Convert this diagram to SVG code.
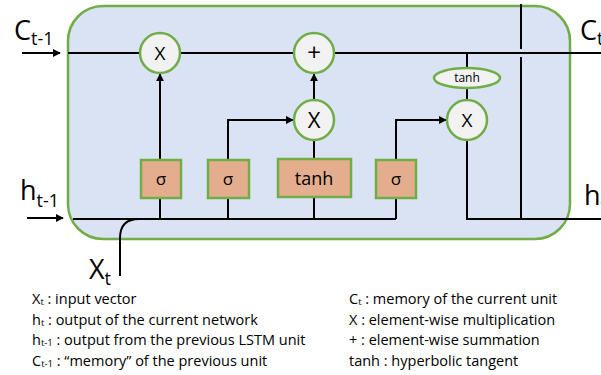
<svg xmlns="http://www.w3.org/2000/svg" width="601" height="375" viewBox="0 0 601 375">
<style>
.ln{fill:none;stroke:#000;stroke-width:2}
.op{fill:#f2f2f2;stroke:#70ad47;stroke-width:2.5}
.box{fill:#e4ae8e;stroke:#70ad47;stroke-width:2.5}
.t{font-family:"Open Sans","Liberation Sans",sans-serif;fill:#000}
.big{font-size:27px}
.sub{font-size:18px}
.leg{font-size:14.5px}
.ls{font-size:9.5px}
</style>
<defs>
<marker id="ar" viewBox="0 0 10 10" refX="9" refY="5" markerWidth="4" markerHeight="4" orient="auto"><path d="M0,0L10,5L0,10z" fill="#000"/></marker>
</defs>
<rect width="601" height="375" fill="#fff"/>
<rect id="cell" x="68" y="6" width="502" height="233" rx="35" fill="#dae3f3" stroke="#70ad47" stroke-width="2.5"/>
<g id="connectors">
<path class="ln" d="M22,53H60" marker-end="url(#ar)"/>
<path class="ln" d="M68,53H601"/>
<path class="ln" d="M27,218H63" marker-end="url(#ar)"/>
<path class="ln" d="M73,219H396"/>
<path class="ln" d="M120,276V238Q120,219 139,219"/>
<path class="ln" d="M160,160V74" marker-end="url(#ar)"/>
<path class="ln" d="M228,219V120H293" marker-end="url(#ar)"/>
<path class="ln" d="M314,159V140"/>
<path class="ln" d="M314,100V74" marker-end="url(#ar)"/>
<path class="ln" d="M396,219V120H446" marker-end="url(#ar)"/>
<path class="ln" d="M160,198V219M228,198V219M314,197V219"/>
<path class="ln" d="M467,53V68M467,88V100"/>
<path class="ln" d="M467,140V219H601"/>
<path class="ln" d="M521,4V49M521,57V219"/>
</g>
<g id="mul1"><circle class="op" cx="160" cy="53" r="20"/><text class="t" x="160" y="60" font-size="19" text-anchor="middle">X</text></g>
<g id="add"><circle class="op" cx="314" cy="53" r="20"/><text class="t" x="314" y="61" font-size="24" text-anchor="middle">+</text></g>
<g id="mul2"><circle class="op" cx="314" cy="120" r="20"/><text class="t" x="314" y="128" font-size="22" text-anchor="middle">X</text></g>
<g id="tanh2"><ellipse class="op" cx="467" cy="78" rx="33" ry="10"/><text class="t" x="467" y="82" font-size="12" text-anchor="middle">tanh</text></g>
<g id="mul3"><circle class="op" cx="467" cy="120" r="20"/><text class="t" x="467" y="127" font-size="19" text-anchor="middle">X</text></g>
<g id="sig1"><rect class="box" x="141" y="160" width="40" height="38"/><text class="t" x="161" y="185" font-size="17" text-anchor="middle">σ</text></g>
<g id="sig2"><rect class="box" x="208" y="160" width="41" height="38"/><text class="t" x="228" y="185" font-size="17" text-anchor="middle">σ</text></g>
<g id="tanh1"><rect class="box" x="278" y="159" width="73" height="38"/><text class="t" x="314" y="185" font-size="18" text-anchor="middle">tanh</text></g>
<g id="sig3"><rect class="box" x="376" y="160" width="40" height="38"/><text class="t" x="396" y="185" font-size="17" text-anchor="middle">σ</text></g>
<g id="labels">
<text class="t big" x="14" y="40">C<tspan class="sub" dy="5">t-1</tspan></text>
<text class="t big" x="20" y="200">h<tspan class="sub" dy="7">t-1</tspan></text>
<text class="t big" x="89" y="279">X<tspan class="sub" dy="6">t</tspan></text>
<text class="t big" x="580" y="40">C<tspan class="sub" dy="5">t</tspan></text>
<text class="t big" x="584" y="205">h<tspan class="sub" dy="7">t</tspan></text>
</g>
<g id="legend" class="t leg">
<text x="32" y="304">X<tspan class="ls" dy="1">t</tspan><tspan dy="-1"> : input vector</tspan></text>
<text x="32" y="325">h<tspan class="ls" dy="1">t</tspan><tspan dy="-1"> : output of the current network</tspan></text>
<text x="32" y="345">h<tspan class="ls" dy="1">t-1</tspan><tspan dy="-1"> : output from the previous LSTM unit</tspan></text>
<text x="32" y="366">C<tspan class="ls" dy="1">t-1</tspan><tspan dy="-1"> : “memory” of the previous unit</tspan></text>
<text x="349" y="304">C<tspan class="ls" dy="1">t</tspan><tspan dy="-1">  : memory of the current unit</tspan></text>
<text x="349" y="325">X : element-wise multiplication</text>
<text x="349" y="345">+ : element-wise summation</text>
<text x="349" y="366">tanh : hyperbolic tangent</text>
</g>
</svg>
